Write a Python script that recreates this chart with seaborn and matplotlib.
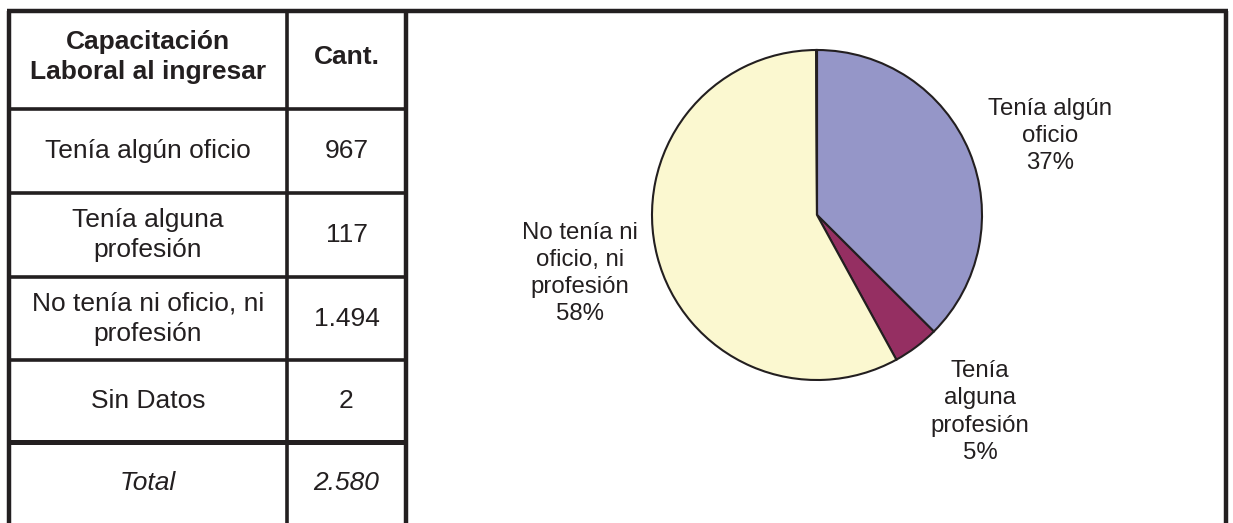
import matplotlib
matplotlib.use("Agg")
import numpy as np
import matplotlib.pyplot as plt
import seaborn as sns

# data
categories = ["Tenía algún oficio", "Tenía alguna profesión",
              "No tenía ni oficio, ni profesión", "Sin Datos"]
table_labels = ["Tenía algún oficio", "Tenía alguna\nprofesión",
                "No tenía ni oficio, ni\nprofesión", "Sin Datos"]
pie_labels = ["Tenía algún\noficio", "Tenía\nalguna\nprofesión",
              "No tenía ni\noficio, ni\nprofesión", "Sin Datos"]
counts = [967, 117, 1494, 2]
header = ["Capacitación\nLaboral al ingresar", "Cant."]
total_label = "Total"

colors = ["#9596c8", "#952f62", "#fbf8d0", "#d0f2f2"]
text_color = "#231f20"

sns.set_theme(style="white")
plt.rcParams["font.family"] = ["Liberation Sans", "DejaVu Sans"]


def fmt(n):
    return f"{n:,}".replace(",", ".")


W, H = 1233, 523
fig = plt.figure(figsize=(W / 100, H / 100), dpi=100)
fig.patch.set_facecolor("white")

# background axes in pixel units for the table / frame
bg = fig.add_axes([0, 0, 1, 1])
bg.set_xlim(0, W)
bg.set_ylim(H, 0)
bg.axis("off")

x_left, x_col, x_mid, x_right = 9, 287, 406, 1226
y_top = 11
row_edges = [11, 109, 193, 277, 360, 442, 523]

outer_lw, inner_lw = 3.2, 2.6
bg.plot([7, 1228], [y_top, y_top], color=text_color, lw=outer_lw, solid_capstyle="butt")
for x in (x_left, x_mid, x_right):
    bg.plot([x, x], [y_top, H], color=text_color, lw=outer_lw, solid_capstyle="butt")
bg.plot([x_col, x_col], [y_top, H], color=text_color, lw=inner_lw, solid_capstyle="butt")
for i, y in enumerate(row_edges[1:-1]):
    lw = 3.6 if i == len(row_edges) - 3 else inner_lw
    bg.plot([x_left, x_mid], [y, y], color=text_color, lw=lw, solid_capstyle="butt")

c1 = (x_left + x_col) / 2
c2 = (x_col + x_mid) / 2
fs_table = 19
ls_table = 1.32

# header
yc = (row_edges[0] + row_edges[1]) / 2 - 3
bg.text(c1, yc, header[0], ha="center", va="center", fontsize=fs_table,
        fontweight="bold", color=text_color, linespacing=ls_table)
bg.text(c2, yc, header[1], ha="center", va="center", fontsize=fs_table,
        fontweight="bold", color=text_color)

# rows
for i, (lab, n) in enumerate(zip(table_labels, counts)):
    yc = (row_edges[i + 1] + row_edges[i + 2]) / 2
    bg.text(c1, yc, lab, ha="center", va="center", fontsize=fs_table,
            color=text_color, linespacing=ls_table)
    bg.text(c2, yc, fmt(n), ha="center", va="center", fontsize=fs_table,
            color=text_color)

total = sum(counts)
yc = (row_edges[5] + row_edges[6]) / 2 + 1
bg.text(c1, yc, total_label, ha="center", va="center", fontsize=fs_table,
        style="italic", color=text_color)
bg.text(c2, yc, fmt(total), ha="center", va="center", fontsize=fs_table,
        style="italic", color=text_color)

# pie
cx, cy, r = 817, 215, 165
ax = fig.add_axes([(cx - r) / W, (H - cy - r) / H, 2 * r / W, 2 * r / H])
wedges, _ = ax.pie(counts, colors=colors, startangle=90, counterclock=False,
                   wedgeprops=dict(edgecolor=text_color, linewidth=1.5))
ax.set_xlim(-1, 1)
ax.set_ylim(-1, 1)
ax.set_aspect("equal")
ax.axis("off")

label_dist = [1.49, 1.55, 1.48, 1.3]
angle_shift = [-3.7, 2.7, -0.7, 0]
for w, lab, n, d, da in zip(wedges, pie_labels, counts, label_dist, angle_shift):
    pct = n / total * 100
    if pct < 1:
        continue
    ang = np.deg2rad((w.theta1 + w.theta2) / 2 + da)
    ax.text(d * np.cos(ang), d * np.sin(ang), f"{lab}\n{pct:.0f}%",
            ha="center", va="center", fontsize=17.3, color=text_color,
            linespacing=1.3, clip_on=False)

fig.savefig("out.png", dpi=100, facecolor="white")
